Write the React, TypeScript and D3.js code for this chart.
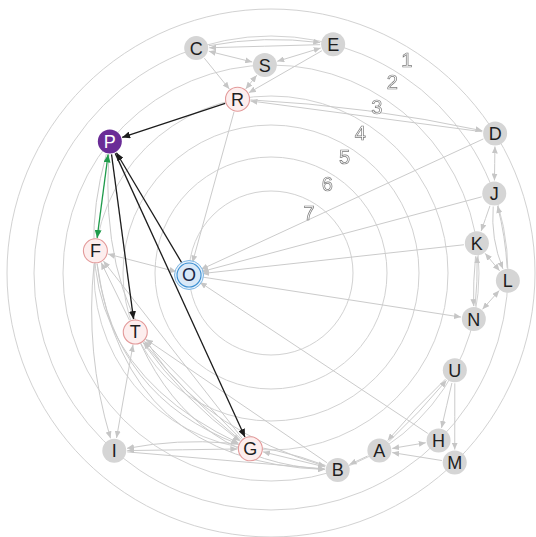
import React from "react";
import * as d3 from "d3";

// ---------- DATA ----------
const nodeIds = ["C", "E", "S", "R", "P", "D", "J", "K", "L", "N", "U", "H", "M", "A", "B", "G", "I", "T", "F", "O"];
const nodeRing = [2, 2, 3, 4, 3, 1, 2, 3, 2, 3, 3, 2, 1, 3, 3, 4, 2, 5, 4, 7];
const nodeAngle = [251.6, 285.2, 268.3, 259.1, 219.2, -31.9, -19.6, -8.2, 1.9, 12.8, 27.9, 45.0, 45.9, 58.6, 71.3, 96.7, 131.4, 156.5, 187.2, 178.6];
const nodeKind = ["n", "n", "n", "hit", "focus", "n", "n", "n", "n", "n", "n", "n", "n", "n", "n", "hit", "n", "hit", "hit", "seed"];

const ringLevels = [1, 2, 3, 4, 5, 6, 7];
const ringLabels = ["1", "2", "3", "4", "5", "6", "7"];

// [source, target, bend, bidirectional]
const grayEdges: [string, string, number, number][] = [
  ["C", "E", -0.08, 0], ["E", "C", 0.0, 0],
  ["C", "S", 0, 1], ["E", "S", 0, 1],
  ["C", "R", 0, 0], ["S", "R", 0, 1], ["E", "R", 0, 0],
  ["D", "R", 0, 0], ["R", "D", -0.04, 0],
  ["R", "O", 0, 0],
  ["D", "J", 0, 1],
  ["J", "K", 0, 0], ["K", "L", 0, 1],
  ["L", "J", 0.05, 0], ["J", "L", 0.12, 0],
  ["K", "N", 0.03, 0], ["N", "K", 0.03, 0], ["N", "L", 0, 1],
  ["D", "O", 0, 0], ["J", "O", 0, 0], ["K", "O", 0, 0], ["O", "N", 0, 0],
  ["U", "A", 0.03, 0], ["A", "U", 0.03, 0], ["U", "H", 0, 0], ["U", "M", 0, 0],
  ["H", "A", 0, 1], ["M", "A", 0, 0], ["A", "B", 0, 0],
  ["H", "O", 0, 0],
  ["B", "G", 0, 0], ["I", "B", 0, 0], ["B", "I", 0.14, 0],
  ["I", "G", 0, 1],
  ["T", "I", 0, 1],
  ["G", "T", 0, 0], ["G", "T", -0.05, 0], ["T", "G", 0.08, 0],
  ["B", "T", 0, 0],
  ["T", "F", 0, 0], ["G", "F", 0, 0],
  ["O", "F", 0, 1],
  ["F", "I", 0.1, 0],
  ["P", "G", 0.42, 0], ["F", "B", 0.42, 0], ["P", "B", 0.4, 0], ["F", "G", 0.3, 0],
  ["T", "B", 0.3, 0],
];
const blackEdges: [string, string, number, number][] = [
  ["R", "P", 0, 0], ["O", "P", 0, 0], ["P", "T", 0, 0], ["P", "G", 0, 0],
];
const greenEdges: [string, string, number, number][] = [
  ["P", "F", 0, 1],
];

// ---------- CHART ----------
const W = 536, H = 537;
const CX = 271, CY = 273;
const NODE_R = 12;

const ringR = d3.scaleLinear().domain([1, 2, 3, 4, 5, 6, 7]).range([264, 237, 208, 177, 148, 116, 82]);
const toRad = (deg: number) => (deg * Math.PI) / 180;

type N = { id: string; x: number; y: number; kind: string };
const nodes: N[] = nodeIds.map((id, i) => ({
  id,
  kind: nodeKind[i],
  x: CX + ringR(nodeRing[i]) * Math.cos(toRad(nodeAngle[i])),
  y: CY + ringR(nodeRing[i]) * Math.sin(toRad(nodeAngle[i])),
}));
const byId = new Map(nodes.map((n) => [n.id, n]));

function edgePath(s: string, t: string, bend: number) {
  const a = byId.get(s)!, b = byId.get(t)!;
  const dx = b.x - a.x, dy = b.y - a.y;
  const mx = (a.x + b.x) / 2 - dy * bend;
  const my = (a.y + b.y) / 2 + dx * bend;
  const u1x = mx - a.x, u1y = my - a.y, l1 = Math.hypot(u1x, u1y);
  const u2x = mx - b.x, u2y = my - b.y, l2 = Math.hypot(u2x, u2y);
  const pad = NODE_R + 1;
  const sx = a.x + (u1x / l1) * pad, sy = a.y + (u1y / l1) * pad;
  const ex = b.x + (u2x / l2) * pad, ey = b.y + (u2y / l2) * pad;
  const p = d3.path();
  p.moveTo(sx, sy);
  p.quadraticCurveTo(mx, my, ex, ey);
  return p.toString();
}

const markers: [string, string, number, number][] = [
  ["g", "#c6c6c6", 7, 3],
  ["k", "#1c1c1c", 8, 3.5],
  ["gr", "#1f9b4b", 8, 3.5],
];

export default function App() {
  const gray = "#cbcbcb";
  const draw = (list: [string, string, number, number][], id: string, color: string, w: number, pre: string) =>
    list.map(([s, t, b, both], i) => (
      <path key={pre + i} d={edgePath(s, t, b)} fill="none" stroke={color} strokeWidth={w}
        markerEnd={`url(#arr-${id})`} markerStart={both ? `url(#arr-${id})` : undefined} />
    ));
  return (
    <svg width={W} height={H} style={{ position: "absolute", left: 0, top: 0, background: "#fff" }}
      fontFamily="'Liberation Sans', Arial, sans-serif">
      <defs>
        {markers.map(([id, c, l, w]) => (
          <marker key={id} id={"arr-" + id} viewBox={`0 ${-w} ${l} ${2 * w}`}
            refX={l} refY={0} markerWidth={l} markerHeight={2 * w}
            markerUnits="userSpaceOnUse" orient="auto-start-reverse">
            <path d={`M0,${-w}L${l},0L0,${w}Z`} fill={c} />
          </marker>
        ))}
        <filter id="gray-aa" x="-10%" y="-10%" width="120%" height="120%">
          <feColorMatrix type="saturate" values="0" />
        </filter>
      </defs>
      <rect width={W} height={H} fill="#fff" />
      {ringLevels.map((lv) => (
        <circle key={lv} cx={CX} cy={CY} r={ringR(lv)} fill="none" stroke="#d2d2d2" strokeWidth={1} />
      ))}
      {draw(grayEdges, "g", gray, 1, "g")}
      {draw(greenEdges, "gr", "#1f9b4b", 1.3, "gr")}
      {draw(blackEdges, "k", "#1c1c1c", 1.3, "k")}
      <g filter="url(#gray-aa)">
        {ringLevels.map((lv, i) => {
          const r = ringR(lv) - 11;
          const a = toRad(-57.5);
          return (
            <text key={"rl" + lv} x={CX + r * Math.cos(a)} y={CY + r * Math.sin(a)} fontSize={20}
              textAnchor="middle" dominantBaseline="central" fill="#fff" stroke="#7a7a7a" strokeWidth={0.7}>
              {ringLabels[i]}
            </text>
          );
        })}
      </g>
      {nodes.map((n) => {
        let fill = "#d5d5d5", stroke = "none", txt = "#1e1e1e";
        if (n.kind === "hit") { fill = "#fdeeee"; stroke = "#e39a9a"; }
        if (n.kind === "focus") { fill = "#6a2c97"; txt = "#ffffff"; }
        if (n.kind === "seed") { fill = "#d9e9f8"; stroke = "#3b8fd2"; txt = "#1a2a4a"; }
        return (
          <g key={n.id}>
            {n.kind === "seed" && (
              <circle cx={n.x} cy={n.y} r={NODE_R + 2.5} fill="#e6f1fb" stroke="#7fb7e4" strokeWidth={1} />
            )}
            <circle cx={n.x} cy={n.y} r={NODE_R} fill={fill} stroke={stroke} strokeWidth={1.1} />
            <text x={n.x} y={n.y} dy="0.36em" textAnchor="middle" fontSize={18} fill={txt}>
              {n.id}
            </text>
          </g>
        );
      })}
    </svg>
  );
}
